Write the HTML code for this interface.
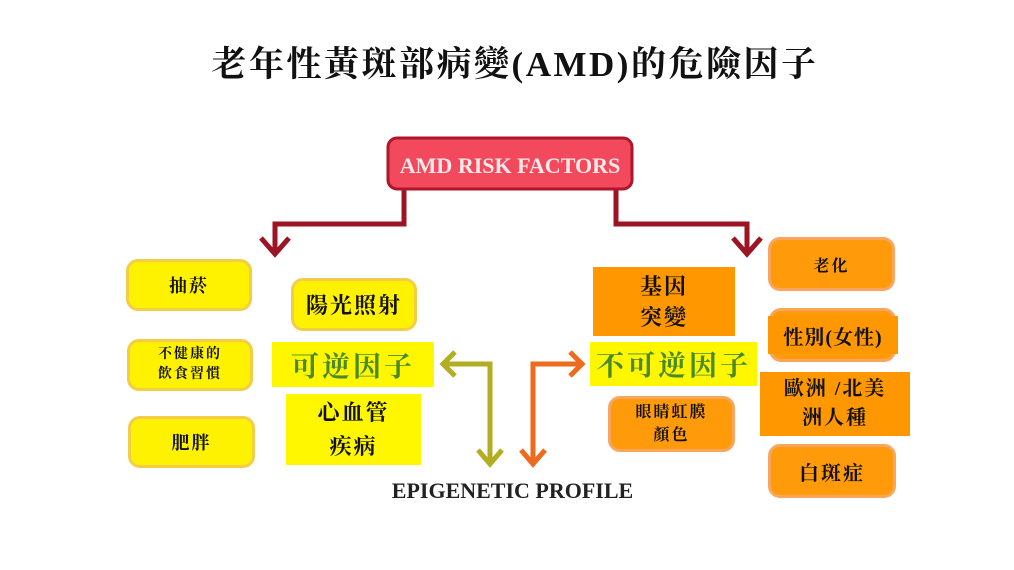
<!DOCTYPE html>
<html><head><meta charset="utf-8"><style>
body{margin:0;width:1014px;height:570px;background:#fff;position:relative;overflow:hidden;font-family:"Liberation Serif","Noto Serif CJK SC",serif}
.a{position:absolute;display:flex;align-items:center;justify-content:center;text-align:center;font-weight:bold;color:#111;font-family:"Liberation Serif","Noto Serif CJK SC",serif;box-sizing:border-box;letter-spacing:2px}
.yr{background:#fff200;border:3px solid #f3cd48;border-radius:12px}
.y{background:#fff700}
.or{background:#ff9a0a;border:3px solid #f8a55e;border-radius:12px}
.o{background:#ff9800}
</style></head><body>
<div class="a" style="left:8px;top:36px;width:1014px;height:52px;font-size:35px;font-weight:bold;letter-spacing:2.5px">老年性黃斑部病變(AMD)的危險因子</div>
<svg width="1014" height="570" style="position:absolute;left:0;top:0">
<g fill="none" stroke="#9b1524" stroke-width="5">
<polyline points="404,190 404,224 275,224 275,254"/><polyline points="261,238 275,254 289,238"/>
<polyline points="616,190 616,224 747,224 747,254"/><polyline points="733,238 747,254 761,238"/>
</g>
<g fill="none" stroke="#b3ad22" stroke-width="5">
<polyline points="443,364 490,364 490,462"/><polyline points="455,352 443,364 455,376"/><polyline points="478,450 490,464 502,450"/>
</g>
<g fill="none" stroke="#ee6a1c" stroke-width="5">
<polyline points="533,462 533,364 582,364"/><polyline points="570,352 582,364 570,376"/><polyline points="521,450 533,464 545,450"/>
</g>
<rect x="388" y="138" width="244" height="51" rx="9" fill="#f24a5c" stroke="#b0162a" stroke-width="3"/>
<text x="510" y="173" text-anchor="middle" font-family="Liberation Serif" font-weight="bold" font-size="22" fill="#fde8ea">AMD RISK FACTORS</text>
</svg>
<div class="a yr" style="left:126px;top:259px;width:126px;height:52px;font-size:18px">抽菸</div>
<div class="a yr" style="left:127px;top:339px;width:126px;height:52px;font-size:14px;line-height:20px">不健康的<br>飲食習慣</div>
<div class="a yr" style="left:128px;top:416px;width:127px;height:52px;font-size:18px">肥胖</div>
<div class="a yr" style="left:291px;top:278px;width:126px;height:53px;font-size:22px">陽光照射</div>
<div class="a y" style="left:272px;top:342px;width:162px;height:45px;font-size:28px;color:#4a8a2a;font-weight:bold;letter-spacing:3px">可逆因子</div>
<div class="a y" style="left:286px;top:394px;width:135px;height:71px;font-size:22px;line-height:34px">心血管<br>疾病</div>
<div class="a" style="left:360px;top:476px;width:305px;height:30px;font-size:22px;color:#222;letter-spacing:0">EPIGENETIC PROFILE</div>
<div class="a o" style="left:593px;top:267px;width:142px;height:69px;font-size:22px;line-height:31px">基因<br>突變</div>
<div class="a y" style="left:590px;top:342px;width:167px;height:44px;font-size:28px;color:#4a8a2a;font-weight:bold;letter-spacing:3px">不可逆因子</div>
<div class="a or" style="left:608px;top:396px;width:127px;height:56px;font-size:16px;line-height:23px">眼睛虹膜<br>顏色</div>
<div class="a or" style="left:768px;top:237px;width:127px;height:54px;font-size:16px">老化</div>
<div class="a or" style="left:769px;top:308px;width:127px;height:54px"></div>
<div class="a o" style="left:768px;top:316px;width:130px;height:38px;font-size:20px;letter-spacing:1px">性別(女性)</div>
<div class="a o" style="left:760px;top:372px;width:150px;height:64px;font-size:20px;line-height:29px">歐洲 /北美<br>洲人種</div>
<div class="a or" style="left:768px;top:444px;width:128px;height:54px;font-size:20px">白斑症</div>
</body></html>
